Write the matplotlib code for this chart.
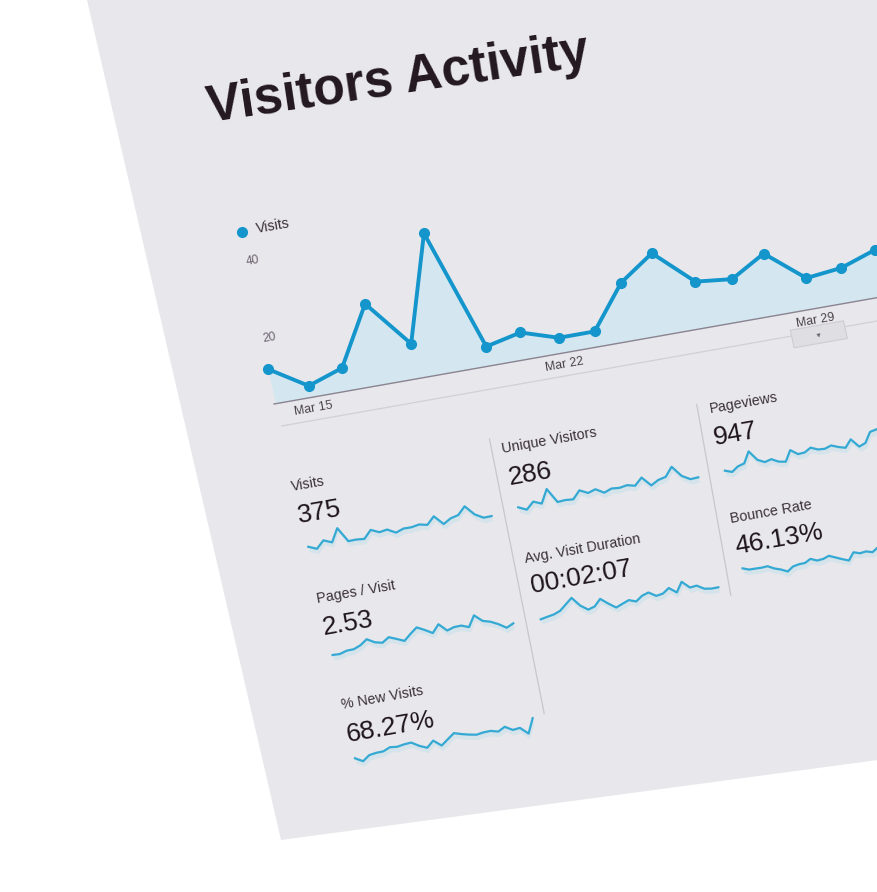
import numpy as np
import matplotlib
matplotlib.use("Agg")
import matplotlib.pyplot as plt
from matplotlib.transforms import Affine2D
from matplotlib.patches import Polygon

# ---------------- data ----------------
title = "Visitors Activity"
legend_label = "Visits"
dates = ["Mar 14", "Mar 15", "Mar 16", "Mar 17", "Mar 18", "Mar 19", "Mar 20", "Mar 21", "Mar 22",
         "Mar 23", "Mar 24", "Mar 25", "Mar 26", "Mar 27", "Mar 28", "Mar 29", "Mar 30", "Mar 31"]
visits = [9, 3, 6, 21, 9, 36, 5, 7, 4, 4, 15, 21, 12, 11, 16, 8, 9, 12]
x_tick_labels = ["Mar 15", "Mar 22", "Mar 29"]
y_ticks = [20, 40]

kpi_labels = ["Visits", "Unique Visitors", "Pageviews", "Pages / Visit",
              "Avg. Visit Duration", "Bounce Rate", "% New Visits"]
kpi_values = ["375", "286", "947", "2.53", "00:02:07", "46.13%", "68.27%"]

spark_visits = [0, -3.5, 3.7, 0.2, 13.3, -1.4, -1.2, -2.0, 5.8, 2.0, 3.3, -1.3, 1.4, 1.3, 2.7, 0.9,
                8.2, -1.1, 3.3, 5.2, 12.7, 3.0, -1.8, -1.6]
spark_unique = [0, -3.8, 3.0, -0.4, 13.1, -1.6, -1.0, -1.7, 6.1, 2.0, 4.4, -0.5, 2.3, 1.6, 2.9, 1.0,
                7.9, -1.5, 2.6, 4.4, 13.3, 2.5, -2.2, -1.7]
spark_pageviews = [0, -2.5, 2.0, 3.8, 14.9, 5.0, 1.5, 3.3, -0.5, -1.7, 8.9, 3.6, 4.1, 7.8, 4.7, 4.2,
                   6.4, 3.6, 1.6, 9.0, 0.4, 2.9, 13.0, 14.4]
spark_pages_visit = [0, -0.3, 1.8, 2.0, 4.8, 9.6, 5.2, 3.4, 7.8, 4.7, 1.4, 7.3, 12.6, 8.7, 4.2, 11.9,
                     4.2, 6.4, 6.6, 3.8, 14.5, 7.5, 5.4, 1.6, -3.4, -0.2]
spark_duration = [0, 1.3, 2.5, 5.0, 10.4, 15.8, 6.6, 1.3, 3.3, 9.8, 3.8, -1.5, 1.1, 3.6, 1.0, 5.6,
                  7.7, 3.0, 4.1, 8.6, 2.8, 12.5, 5.4, 6.1, 1.7, 0.6, 0.7]
spark_bounce = [0, -2.3, -2.4, -2.6, -2.2, -5.6, -7.8, -10.9, -6.9, -5.7, -5.5, -2.4, -5.2, -4.7, -2.6,
                -5.4, -8.2, -10.7, -3.4, -5.5, -4.7, -6.6, -2.8]
spark_new = [0, -4.3, 0.6, 1.7, 1.9, 4.8, 4.0, 5.2, 5.7, 1.0, -2.2, 3.8, -2.5, 2.6, 7.6, 5.3, 3.5, 2.1,
             3.2, 3.4, 1.4, 5.0, 0.5, 1.3, -5.8, 8.6]
sparks = [spark_visits, spark_unique, spark_pageviews, spark_pages_visit,
          spark_duration, spark_bounce, spark_new]

# ---------------- layout (page coordinates) ----------------
label_pos = [(-1.5, 88.6), (212.9, 87.7), (424.7, 85.1), (-0.7, 203.4),
             (211.8, 200.2), (420.4, 197.0), (0.0, 312.7)]
value_pos = [(-1.1, 122.0), (212.4, 120.7), (422.0, 117.0), (-1.1, 236.4),
             (210.8, 231.4), (419.5, 228.3), (-1.5, 345.6)]
spark_start = [(2.6, 146.7), (216.3, 144.3), (426.2, 144.1), (2.9, 257.6),
               (214.0, 258.6), (422.3, 243.5), (2.4, 363.3)]
spark_width = [185.7, 182.4, 157.0, 183.4, 180.5, 136.7, 182.3]

BLUE = "#1496cc"
SPARK = "#34a9d3"
FONT = "Liberation Sans"

W, H = 878, 892
fig = plt.figure(figsize=(W / 100, H / 100), dpi=100)
fig.patch.set_facecolor("white")
ax = fig.add_axes([0, 0, 1, 1])
ax.set_xlim(0, W)
ax.set_ylim(H, 0)
ax.set_autoscale_on(False)
ax.axis("off")

# screen surface
ax.add_patch(Polygon([(87, 0), (281, 840), (878, 760), (878, 0)], closed=True,
                     fc="#e8e7eb", ec="none", zorder=0))

# page -> picture transform (tilted screen)
au, av = np.radians(10.0), np.radians(12.5)
X0, Y0 = 274.0, 404.0
page = Affine2D(np.array([[np.cos(au), np.sin(av), X0],
                          [-np.sin(au), np.cos(av), Y0],
                          [0.0, 0.0, 1.0]])) + ax.transData


def ptext(u, v, s, size, color, weight="normal", ha="left", va="baseline", rot=10.0):
    ax.text(u, v, s, transform=page, fontsize=size, color=color, fontweight=weight,
            ha=ha, va=va, rotation=rot, rotation_mode="anchor", family=FONT, zorder=6)


# title
ptext(-2, -289, title, 37, "#231820", weight="bold", rot=8.5)

# main chart
STEP, VSCALE, U0 = 36.4, 3.95, 1.5
chart = Affine2D().scale(STEP, -VSCALE).translate(U0, 0) + page
xi = np.arange(len(visits))
ax.fill_between(xi, 0, visits, transform=chart, color="#d4e7f0", lw=0, zorder=2)
ax.plot([0, 720], [0, 0], transform=page, color="#8b8390", lw=1.0, zorder=3)
ax.plot([3, 720], [23, 23], transform=page, color="#d2cfd5", lw=0.9, zorder=3)
ax.plot(xi, visits, transform=chart, color=BLUE, lw=2.8, marker="o", ms=7,
        solid_joinstyle="round", zorder=4)

# legend
ax.plot([5.7], [-175.4], "o", transform=page, ms=7, color=BLUE, zorder=5)
ptext(20.7, -171.2, legend_label, 10.3, "#3a3038")

# y labels
for t in y_ticks:
    ptext(3.0, -t * VSCALE + 16.4, str(t), 8.6, "#6a6270")

# x labels
for lab in x_tick_labels:
    i = dates.index(lab)
    ptext(U0 + i * STEP, 12, lab, 8.9, "#4a424c", ha="center", va="center")

# date-range handle under Mar 29
i29 = dates.index("Mar 29")
uc = U0 + i29 * STEP
ax.add_patch(Polygon([(uc - 27, 17), (uc + 27, 17), (uc + 27, 35), (uc - 27, 35)], closed=True,
                     transform=page, fc="#dfdee3", ec="#cfcdd3", lw=0.8, zorder=3))
ax.text(uc, 26, "\u25be", transform=page, fontsize=6, color="#6a6470", ha="center", va="center",
        rotation=10, rotation_mode="anchor", zorder=6)

# KPI dividers
ax.plot([203, 197], [72, 352], transform=page, color="#c9c6cd", lw=0.9, zorder=3)
ax.plot([413, 405], [74, 268], transform=page, color="#c9c6cd", lw=0.9, zorder=3)

# KPI blocks
for k in range(len(kpi_labels)):
    lu, lv = label_pos[k]
    ptext(lu, lv, kpi_labels[k], 10.3, "#3a3038")
    vu, vv = value_pos[k]
    ptext(vu, vv, kpi_values[k], 19, "#1e141c")
    vals = np.asarray(sparks[k])
    n = len(vals)
    su, sv = spark_start[k]
    tr = Affine2D().scale(spark_width[k] / (n - 1), -1).translate(su, sv) + page
    idx = np.arange(n)
    ax.fill_between(idx, vals - 5, vals, transform=tr, color="#c6e0ec", alpha=0.55,
                    lw=0, zorder=2)
    ax.plot(idx, vals, transform=tr, color=SPARK, lw=1.6, solid_joinstyle="round", zorder=4)

fig.savefig("out.png", dpi=100, facecolor="white")
